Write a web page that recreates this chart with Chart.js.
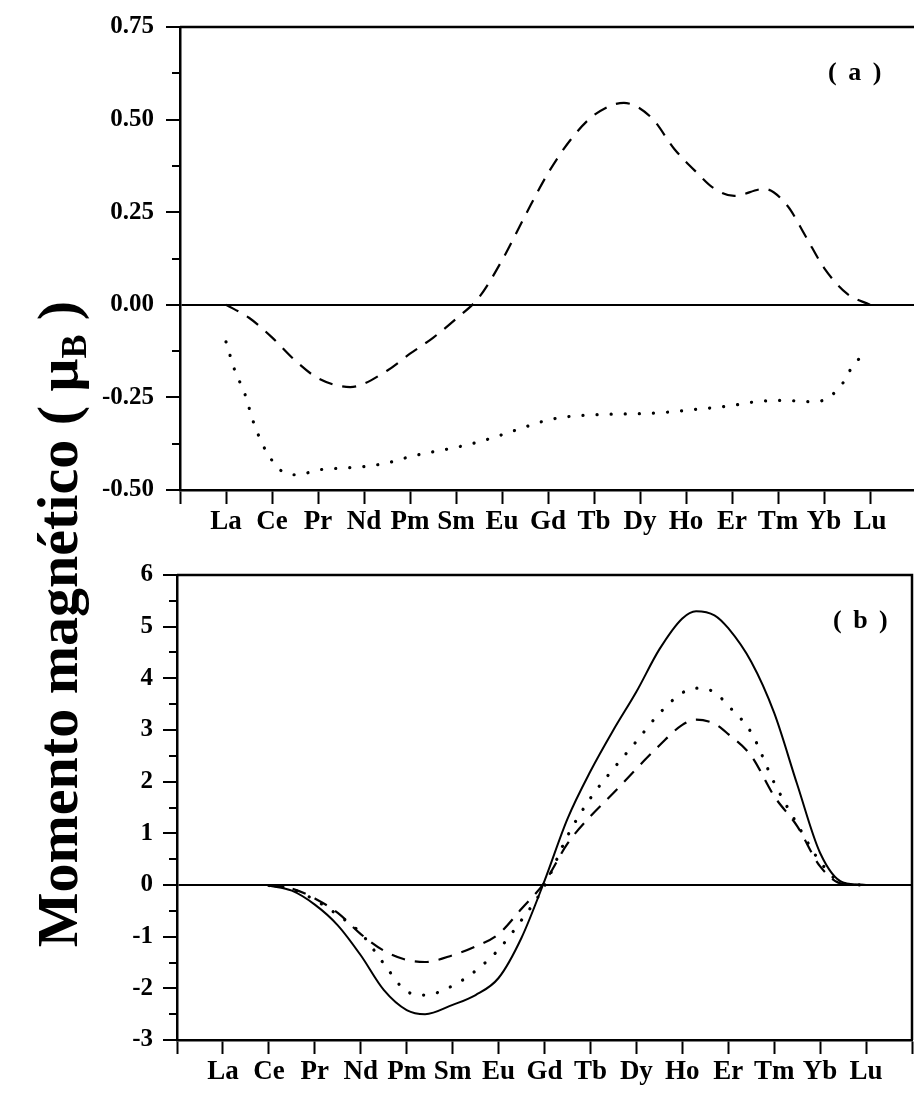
<!DOCTYPE html>
<html>
<head>
<meta charset="utf-8">
<script src="https://cdn.jsdelivr.net/npm/chart.js@4.4.1/dist/chart.umd.min.js"></script>
<style>
  html, body { margin: 0; padding: 0; background: #fff; width: 914px; height: 1095px; overflow: hidden; }
  #wrapA { position: absolute; left: 0; top: 0; width: 920px; height: 540px; }
  #wrapB { position: absolute; left: 0; top: 540px; width: 914px; height: 555px; }
  .ytitle {
    position: absolute; left: -297px; top: 595px; width: 700px; height: 58px;
    line-height: 58px; text-align: center; white-space: nowrap;
    font: bold 58px "Liberation Serif", "Times New Roman", serif; color: #000;
    transform: rotate(-90deg);
  }
  .ytitle sub { font-size: 0.62em; vertical-align: -0.25em; line-height: 0; }
  .panel {
    position: absolute; font: bold 26px "Liberation Serif", "Times New Roman", serif;
    line-height: 28px; word-spacing: 5px; color: #000; white-space: nowrap;
  }
</style>
</head>
<body>
<div id="wrapA"><canvas id="chartA"></canvas></div>
<div id="wrapB"><canvas id="chartB"></canvas></div>
<div class="ytitle">Momento magnético ( μ<sub>B</sub> )</div>
<div class="panel" style="left:828px; top:58px;">( a )</div>
<div class="panel" style="left:833px; top:606px;">( b )</div>
<script>
// ---- categories / tick labels ----
const elements = ['La','Ce','Pr','Nd','Pm','Sm','Eu','Gd','Tb','Dy','Ho','Er','Tm','Yb','Lu'];
const minorTicksA = [0.625, 0.375, 0.125, -0.125, -0.375];
const minorTicksB = [5.5, 4.5, 3.5, 2.5, 1.5, 0.5, -0.5, -1.5, -2.5];

// ---- panel (a) ----
const aDashedX = [1, 1.5, 2, 2.5, 3, 3.7, 4.5, 5, 5.5, 6, 6.5, 7, 7.5, 8, 8.5, 9, 9.65, 10.25, 10.75, 11.25, 11.6, 12.05, 12.7, 13.2, 13.6, 14, 14.5, 15];
const aDashedY = [0, -0.035, -0.088, -0.15, -0.198, -0.222, -0.178, -0.132, -0.089, -0.038, 0.02, 0.12, 0.24, 0.355, 0.447, 0.512, 0.545, 0.505, 0.42, 0.355, 0.315, 0.294, 0.313, 0.268, 0.185, 0.10, 0.03, 0.0];

const aDottedX = [1, 1.2, 1.4, 1.6, 1.8, 2.0, 2.2, 2.55, 3, 3.5, 4, 4.5, 5, 5.5, 6, 6.5, 7, 7.5, 8, 8.5, 9, 9.5, 10, 10.5, 11, 11.5, 12, 12.5, 13.1, 13.8, 14.1, 14.4, 14.65, 14.9];
const aDottedY = [-0.10, -0.18, -0.237, -0.318, -0.378, -0.42, -0.448, -0.459, -0.446, -0.441, -0.437, -0.427, -0.41, -0.397, -0.385, -0.37, -0.351, -0.33, -0.311, -0.301, -0.297, -0.295, -0.294, -0.291, -0.285, -0.279, -0.272, -0.262, -0.258, -0.262, -0.25, -0.213, -0.16, -0.133];

// ---- panel (b) ----
const bX       = [2, 2.5, 3, 3.5, 4, 4.5, 5, 5.4, 6, 6.5, 7, 7.5, 8, 8.5, 9, 9.5, 10, 10.5, 11, 11.3, 11.7, 12, 12.5, 13, 13.5, 14, 14.5, 15];
const bSolid   = [-0.01, -0.11, -0.38, -0.78, -1.36, -2.03, -2.42, -2.5, -2.32, -2.13, -1.8, -1.02, 0.08, 1.28, 2.2, 3.0, 3.74, 4.56, 5.16, 5.3, 5.22, 4.97, 4.32, 3.33, 1.95, 0.62, 0.05, 0];
const bDotted  = [-0.01, -0.08, -0.29, -0.58, -0.93, -1.52, -2.06, -2.13, -1.95, -1.66, -1.25, -0.68, -0.02, 0.95, 1.68, 2.25, 2.78, 3.32, 3.72, 3.81, 3.73, 3.47, 2.95, 1.98, 1.18, 0.45, 0.03, 0];
const bDashed  = [-0.01, -0.07, -0.26, -0.54, -0.95, -1.27, -1.45, -1.49, -1.36, -1.19, -0.95, -0.46, 0.05, 0.8, 1.33, 1.78, 2.25, 2.7, 3.1, 3.2, 3.12, 2.92, 2.5, 1.72, 1.14, 0.36, 0.02, 0];

const toXY = (xs, ys) => xs.map((x, i) => ({ x, y: ys[i] }));

const serif = '"Liberation Serif", "Times New Roman", serif';

const framePlugin = {
  id: 'frame',
  afterDraw(chart, args, opts) {
    const { ctx, chartArea: a, scales: { y } } = chart;
    ctx.save();
    ctx.strokeStyle = '#000';
    ctx.lineWidth = 2;
    (opts.minor || []).forEach(v => {
      const py = Math.round(y.getPixelForValue(v));
      ctx.beginPath();
      ctx.moveTo(a.left - 8, py);
      ctx.lineTo(a.left, py);
      ctx.stroke();
    });
    ctx.lineWidth = 2.5;
    ctx.beginPath();
    ctx.moveTo(a.left, a.top);
    ctx.lineTo(a.right, a.top);
    ctx.lineTo(a.right, a.bottom);
    ctx.stroke();
    ctx.restore();
  }
};

const lineStyle = {
  solid:  { borderColor: '#000', borderWidth: 2, pointRadius: 0, cubicInterpolationMode: 'monotone', fill: false },
  dashed: { borderColor: '#000', borderWidth: 2.2, borderDash: [14, 10], pointRadius: 0, cubicInterpolationMode: 'monotone', fill: false },
  dotted: { borderColor: '#000', borderWidth: 3.2, borderDash: [0.1, 14], borderCapStyle: 'round', pointRadius: 0, cubicInterpolationMode: 'monotone', fill: false }
};

function makeScales(cfg) {
  return {
    x: {
      type: 'linear', min: 0, max: 16,
      afterFit: s => { s.height = cfg.xHeight; },
      border: { color: '#000', width: 2.5 },
      grid: { drawOnChartArea: false, drawTicks: true, tickLength: 14, tickWidth: 2, tickColor: '#000', color: '#000' },
      ticks: {
        stepSize: 1, autoSkip: false, maxRotation: 0, minRotation: 0, color: '#000', padding: 2,
        font: { family: serif, weight: 'bold', size: 27 },
        callback: v => elements[v - 1] || ''
      }
    },
    y: {
      type: 'linear', min: cfg.yMin, max: cfg.yMax,
      afterFit: s => { s.width = cfg.yWidth; },
      border: { color: '#000', width: 2.5 },
      grid: {
        drawOnChartArea: true, drawTicks: true, tickLength: 14, tickWidth: 2, tickColor: '#000',
        lineWidth: 2,
        color: c => (c.tick && c.tick.value === 0) ? '#000' : 'rgba(0,0,0,0)'
      },
      ticks: {
        stepSize: cfg.yStep, color: '#000', padding: cfg.yPad,
        font: { family: serif, weight: 'bold', size: 25 },
        callback: cfg.yFmt
      }
    }
  };
}

new Chart(document.getElementById('chartA'), {
  type: 'line',
  data: {
    datasets: [
      Object.assign({ data: toXY(aDashedX, aDashedY) }, lineStyle.dashed),
      Object.assign({ data: toXY(aDottedX, aDottedY) }, lineStyle.dotted)
    ]
  },
  options: {
    responsive: true, maintainAspectRatio: false, animation: false,
    layout: { padding: { top: 20, right: 4, left: 0, bottom: 0 } },
    plugins: { legend: { display: false }, tooltip: { enabled: false }, frame: { minor: minorTicksA } },
    scales: makeScales({ xHeight: 50, yWidth: 180, yMin: -0.5, yMax: 0.75, yStep: 0.25, yPad: 12, yFmt: v => Number(v).toFixed(2) })
  },
  plugins: [framePlugin]
});

new Chart(document.getElementById('chartB'), {
  type: 'line',
  data: {
    datasets: [
      Object.assign({ data: toXY(bX, bSolid) }, lineStyle.solid),
      Object.assign({ data: toXY(bX, bDotted) }, lineStyle.dotted),
      Object.assign({ data: toXY(bX, bDashed) }, lineStyle.dashed)
    ]
  },
  options: {
    responsive: true, maintainAspectRatio: false, animation: false,
    layout: { padding: { top: 35, right: 2, left: 0, bottom: 0 } },
    plugins: { legend: { display: false }, tooltip: { enabled: false }, frame: { minor: minorTicksB } },
    scales: makeScales({ xHeight: 55, yWidth: 177, yMin: -3, yMax: 6, yStep: 1, yPad: 10, yFmt: v => String(v) })
  },
  plugins: [framePlugin]
});
</script>
</body>
</html>
